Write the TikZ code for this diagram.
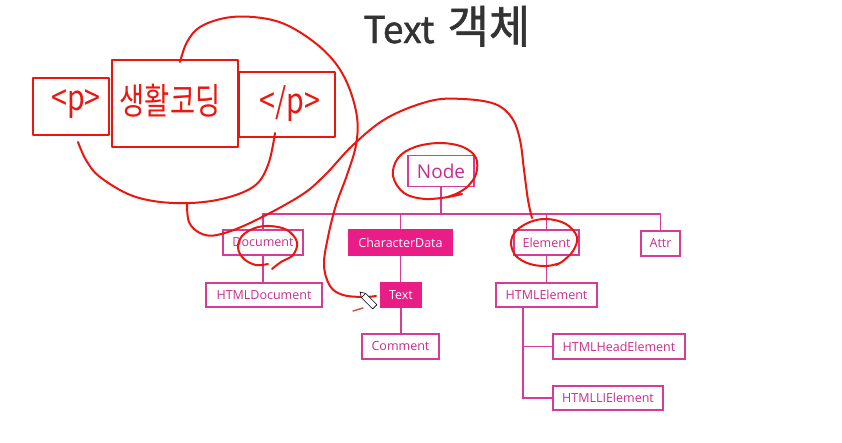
\documentclass[tikz,border=0pt]{standalone}
\usepackage{fontspec}
\newfontfamily\boxfont{Open Sans}
\newfontfamily\kr{Noto Sans CJK KR}
\newfontfamily\krtitle{Noto Sans CJK KR}[FakeBold=1.2]
\definecolor{pinkline}{RGB}{214,60,150}
\definecolor{pinktext}{RGB}{200,45,140}
\definecolor{pinkfill}{RGB}{234,28,134}
\definecolor{inkred}{RGB}{235,22,15}
\definecolor{titlegray}{RGB}{51,51,51}
\tikzset{
  pinkbox/.style={draw=pinkline, line width=1.1pt, text=pinktext, inner sep=0pt,
    font=\boxfont\fontsize{12.5}{14}\selectfont, minimum height=25pt},
  pinkfilled/.style={pinkbox, fill=pinkfill, draw=pinkfill, text=white},
  conn/.style={draw=pinkline, line width=1.4pt},
  redink/.style={draw=inkred, line width=2pt, line cap=round, line join=round},
  handtext/.style={text=inkred, inner sep=0pt, font=\kr\fontsize{26}{30}\selectfont}
}
\begin{document}
\begin{tikzpicture}[x=1pt,y=-1pt]
\useasboundingbox (0,0) rectangle (842,442);
\fill[white] (0,0) rectangle (842,442);

% title
\node[text=titlegray, font=\krtitle\fontsize{37}{40}\selectfont, anchor=base west] (title) at (360,43)
  {Text\hspace{13pt}{\fontsize{45}{48}\selectfont 객체}};

% tree
\node[pinkbox, minimum width=66pt, minimum height=31pt, font=\boxfont\fontsize{19}{22}\selectfont] (node) at (441,171) {Node};
\node[pinkbox, minimum width=80pt] (document) at (263,242.5) {Document};
\node[pinkfilled, minimum width=103pt] (chardata) at (400.5,242.5) {CharacterData};
\node[pinkbox, minimum width=65pt] (element) at (546.5,242.5) {Element};
\node[pinkbox, minimum width=39pt] (attr) at (660.5,243.5) {Attr};
\node[pinkbox, minimum width=116pt, minimum height=24pt] (htmldoc) at (264,295) {HTMLDocument};
\node[pinkfilled, minimum width=40pt, minimum height=24pt] (text) at (401,295) {Text};
\node[pinkbox, minimum width=77pt] (comment) at (400.5,346.5) {Comment};
\node[pinkbox, minimum width=101pt, minimum height=24pt] (htmlel) at (546.5,295) {HTMLElement};
\node[pinkbox, minimum width=132pt] (headel) at (619,346.5) {HTMLHeadElement};
\node[pinkbox, minimum width=110pt, minimum height=24pt] (liel) at (608,398) {HTMLLIElement};

\draw[conn] (node.south) -- ++(0,27) coordinate (bj);
\draw[conn] (document.north) |- (bj) -| (attr.north);
\draw[conn] (chardata.north) -- (chardata.north |- bj);
\draw[conn] (element.north) -- (element.north |- bj);
\draw[conn] (document.south) -- (document.south |- htmldoc.north);
\draw[conn] (text.north -| chardata.south) -- (chardata.south);
\draw[conn] (text.south) -- (text.south |- comment.north);
\draw[conn] (element.south) -- (element.south |- htmlel.north);
\coordinate (spine) at ([xshift=-23.5pt]htmlel.south);
\draw[conn] (spine) |- (headel.west);
\draw[conn] (spine) |- (liel.west);

% handwritten boxes
\draw[redink, line width=1.8pt] (33,78) rectangle (109,135);
\draw[redink, line width=1.8pt] (112,60) rectangle (238,147);
\draw[redink, line width=1.8pt] (239,72) rectangle (335,137);
\node[handtext] (ptag) at (76,104) {\scalebox{1.1}[1.35]{<p>}};
\node[handtext] (saeng) at (170,101) {\scalebox{1.05}[1.4]{생활코딩}};
\node[handtext] (pclose) at (290,104) {\scalebox{1.1}[1.35]{</p>}};

% U curve under the tags
\draw[redink] plot[smooth, tension=0.6] coordinates {(78,142) (86,160) (100,177) (133,196) (173,203) (217,200) (253,187) (268,165) (275,133)};
% curve from U to Element
\draw[redink] plot[smooth, tension=0.6] coordinates {(187,203) (189,222) (200,233) (217,235) (250,223) (300,196) (325,175) (353,145) (387,118) (430,101) (463,99) (495,104) (512,118) (520,140) (524,170) (528,200) (532,218)};
% curve from the text box over the top down to Text
\draw[redink] plot[smooth, tension=0.6] coordinates {(180,62) (187,42) (200,27) (225,18) (253,17) (282,23) (310,39) (333,60) (348,85) (357,117) (356,145) (347,175) (336,205) (328,237) (324,265) (330,286) (343,295) (363,297) (376,296)};
% circle around Node
\draw[redink] plot[smooth, tension=0.6] coordinates {(448,197) (425,199) (404,193) (393,176) (398,158) (415,147) (440,143) (463,147) (476,158) (476,174) (468,186) (458,193) (448,197) (462,194)};
% circle around Document
\draw[redink] plot[smooth, tension=0.6] coordinates {(268,264) (256,265) (244,259) (238,248) (242,236) (255,228) (270,226) (287,230) (297,242) (293,255) (281,262) (272,269)};
% circle around Element
\draw[redink] plot[smooth, tension=0.6] coordinates {(560,263) (547,266) (530,264) (516,256) (511,243) (516,231) (530,222) (547,219) (566,224) (577,237) (573,251) (563,261) (556,265)};

% cursor and small mark
\draw[draw=black, fill=white, line width=0.6pt, line join=round] (360,292) -- (361.4,297.6) -- (372.7,308.9) -- (376.9,304.7) -- (365.6,293.4) -- cycle;
\draw[black, line width=0.6pt] (361.4,297.6) -- (365.6,293.4);
\draw[color={rgb,255:red,190;green,90;blue,80}, line width=1.5pt, line cap=round] (353,311) -- (363,308);
\end{tikzpicture}
\end{document}
